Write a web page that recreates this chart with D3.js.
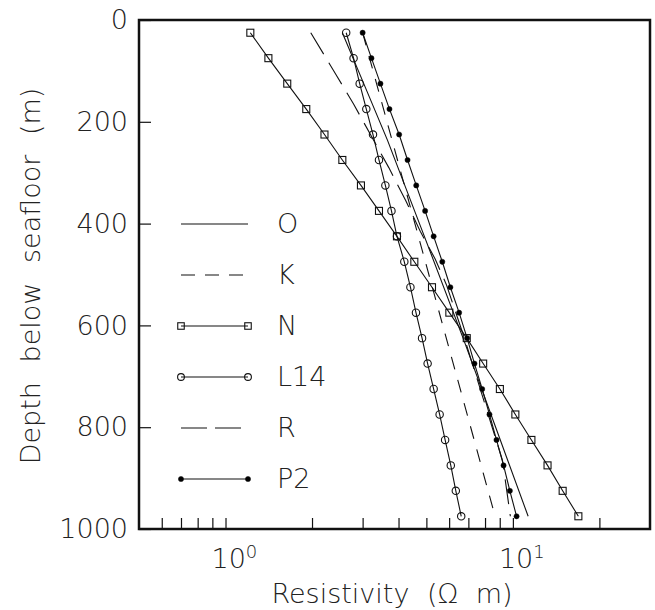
<!DOCTYPE html>
<html>
<head>
<meta charset="utf-8">
<script src="https://cdn.jsdelivr.net/npm/d3@7"></script>
<style>
  html, body { margin: 0; padding: 0; background: #fff; }
  svg text { font-family: "DejaVu Sans", sans-serif; font-weight: 200; fill: #222; }
</style>
</head>
<body>
<svg id="chart" width="655" height="610"></svg>
<script>
// ---- data ----
const depths = [25, 75, 125, 175, 225, 275, 325, 375, 425, 475, 525, 575, 625, 675, 725, 775, 825, 875, 925, 975];
const seriesN   = [1.22, 1.41, 1.64, 1.91, 2.21, 2.55, 2.96, 3.42, 3.95, 4.54, 5.23, 6.01, 6.91, 7.88, 9.01, 10.2, 11.6, 13.2, 14.9, 16.9];
const seriesL14 = [2.63, 2.79, 2.93, 3.09, 3.26, 3.42, 3.60, 3.78, 3.95, 4.19, 4.40, 4.60, 4.83, 5.05, 5.30, 5.56, 5.81, 6.08, 6.33, 6.61];
const seriesP2  = [3.00, 3.22, 3.46, 3.72, 4.02, 4.30, 4.61, 4.95, 5.30, 5.68, 6.06, 6.50, 6.93, 7.35, 7.82, 8.29, 8.77, 9.28, 9.76, 10.3];
const depthsO = [25, 150, 236, 425, 629, 800, 975];
const seriesO = [2.55, 3.16, 3.66, 4.92, 6.75, 8.71, 11.3];
const depthsK = [25, 975];
const seriesK = [3.0, 8.67];
const depthsR = [25, 105, 165, 230, 290, 355, 415, 470, 520, 625, 865, 975];
const seriesR = [1.98, 2.41, 2.79, 3.23, 3.70, 4.24, 4.76, 5.37, 5.87, 6.78, 9.2, 9.8];
const yTicks = [0, 200, 400, 600, 800, 1000];
const xMinorTicks = [0.6, 0.7, 0.8, 0.9, 1, 2, 3, 4, 5, 6, 7, 8, 9, 10, 20];
const xLabelTicks = [1, 10];
const xLabelExps = ["0", "1"];
const legendNames = ["O", "K", "N", "L14", "R", "P2"];

// ---- layout ----
const svg = d3.select("#chart");
const L = 139, R = 650, T = 20, B = 529;
const x = d3.scaleLog().domain([0.5, 30]).range([L, R]);
const y = d3.scaleLinear().domain([0, 1000]).range([T, B]);
const FS = 27;

// axes ticks
const gy = svg.append("g").attr("transform", `translate(${L},0)`)
  .call(d3.axisLeft(y).tickValues(yTicks).tickSizeInner(-12).tickSizeOuter(0).tickPadding(11).tickFormat(d3.format("d")));
gy.select(".domain").remove();
gy.selectAll("line").attr("stroke", "#111").attr("stroke-width", 1.2);
gy.selectAll("text").attr("font-size", FS).attr("fill", "#222")
  .style("font-family", '"DejaVu Sans", sans-serif').style("font-weight", 200);

const gx = svg.append("g").attr("transform", `translate(0,${B})`)
  .call(d3.axisBottom(x).tickValues(xMinorTicks).tickSizeInner(-11).tickSizeOuter(0).tickFormat(""));
gx.select(".domain").remove();
gx.selectAll("line").attr("stroke", "#111").attr("stroke-width", 1.2);

// x tick labels with superscripts
xLabelTicks.forEach((v, i) => {
  const t = svg.append("text")
    .attr("x", x(v) - 14).attr("y", 568)
    .attr("font-size", FS);
  t.append("tspan").text("10");
  t.append("tspan").attr("dy", -10).attr("font-size", 18).text(xLabelExps[i]);
});

// frame
svg.append("rect").attr("x", L).attr("y", T).attr("width", R - L).attr("height", B - T)
  .attr("fill", "none").attr("stroke", "#111").attr("stroke-width", 2.5);

// axis titles
svg.append("text").attr("x", 392).attr("y", 603).attr("text-anchor", "middle")
  .attr("font-size", FS).style("word-spacing", "9px").text("Resistivity  (Ω  m)");
svg.append("text").attr("transform", "translate(40,276) rotate(-90)").attr("text-anchor", "middle")
  .attr("font-size", FS).style("word-spacing", "11px").text("Depth  below  seafloor  (m)");

// ---- series ----
const line = d3.line().x(d => x(d[1])).y(d => y(d[0]));
const zipped = (ds, vs) => ds.map((d, i) => [d, vs[i]]);

const g = svg.append("g");
function drawLine(ds, vs, dash) {
  g.append("path").datum(zipped(ds, vs)).attr("d", line)
    .attr("fill", "none").attr("stroke", "#111").attr("stroke-width", 1.1)
    .attr("stroke-dasharray", dash || null);
}
drawLine(depthsO, seriesO, null);
drawLine(depthsK, seriesK, "13,11");
drawLine(depthsR, seriesR, "25,10");
drawLine(depths, seriesN, null);
drawLine(depths, seriesL14, null);
drawLine(depths, seriesP2, null);

function squares(sel, pts, s) {
  sel.selectAll(null).data(pts).enter().append("rect")
    .attr("x", d => d[0] - s / 2).attr("y", d => d[1] - s / 2).attr("width", s).attr("height", s)
    .attr("fill", "none").attr("stroke", "#111").attr("stroke-width", 1.1);
}
function circles(sel, pts, r, filled) {
  sel.selectAll(null).data(pts).enter().append("circle")
    .attr("cx", d => d[0]).attr("cy", d => d[1]).attr("r", r)
    .attr("fill", filled ? "#000" : "none").attr("stroke", "#111").attr("stroke-width", filled ? 0.5 : 1.1);
}
const px = (ds, vs) => ds.map((d, i) => [x(vs[i]), y(d)]);
squares(g, px(depths, seriesN), 7);
circles(g, px(depths, seriesL14), 3.7, false);
circles(g, px(depths, seriesP2), 2.6, true);

// ---- legend ----
const lx1 = 181, lx2 = 248, ly0 = 224, lstep = 51;
const lg = svg.append("g");
const styles = [
  {dash: null, m: null}, {dash: "14,10", m: null}, {dash: null, m: "sq"},
  {dash: null, m: "ci"}, {dash: "26,8", m: null}, {dash: null, m: "dot"}
];
legendNames.forEach((name, i) => {
  const yy = ly0 + i * lstep;
  lg.append("line").attr("x1", lx1).attr("x2", lx2).attr("y1", yy).attr("y2", yy)
    .attr("stroke", "#111").attr("stroke-width", 1.1).attr("stroke-dasharray", styles[i].dash);
  const pts = [[lx1, yy], [lx2, yy]];
  if (styles[i].m === "sq") squares(lg, pts, 6.5);
  if (styles[i].m === "ci") circles(lg, pts, 3.4, false);
  if (styles[i].m === "dot") circles(lg, pts, 2.6, true);
  lg.append("text").attr("x", 277).attr("y", yy).attr("dy", "0.35em").attr("font-size", FS).text(name);
});
</script>
</body>
</html>
